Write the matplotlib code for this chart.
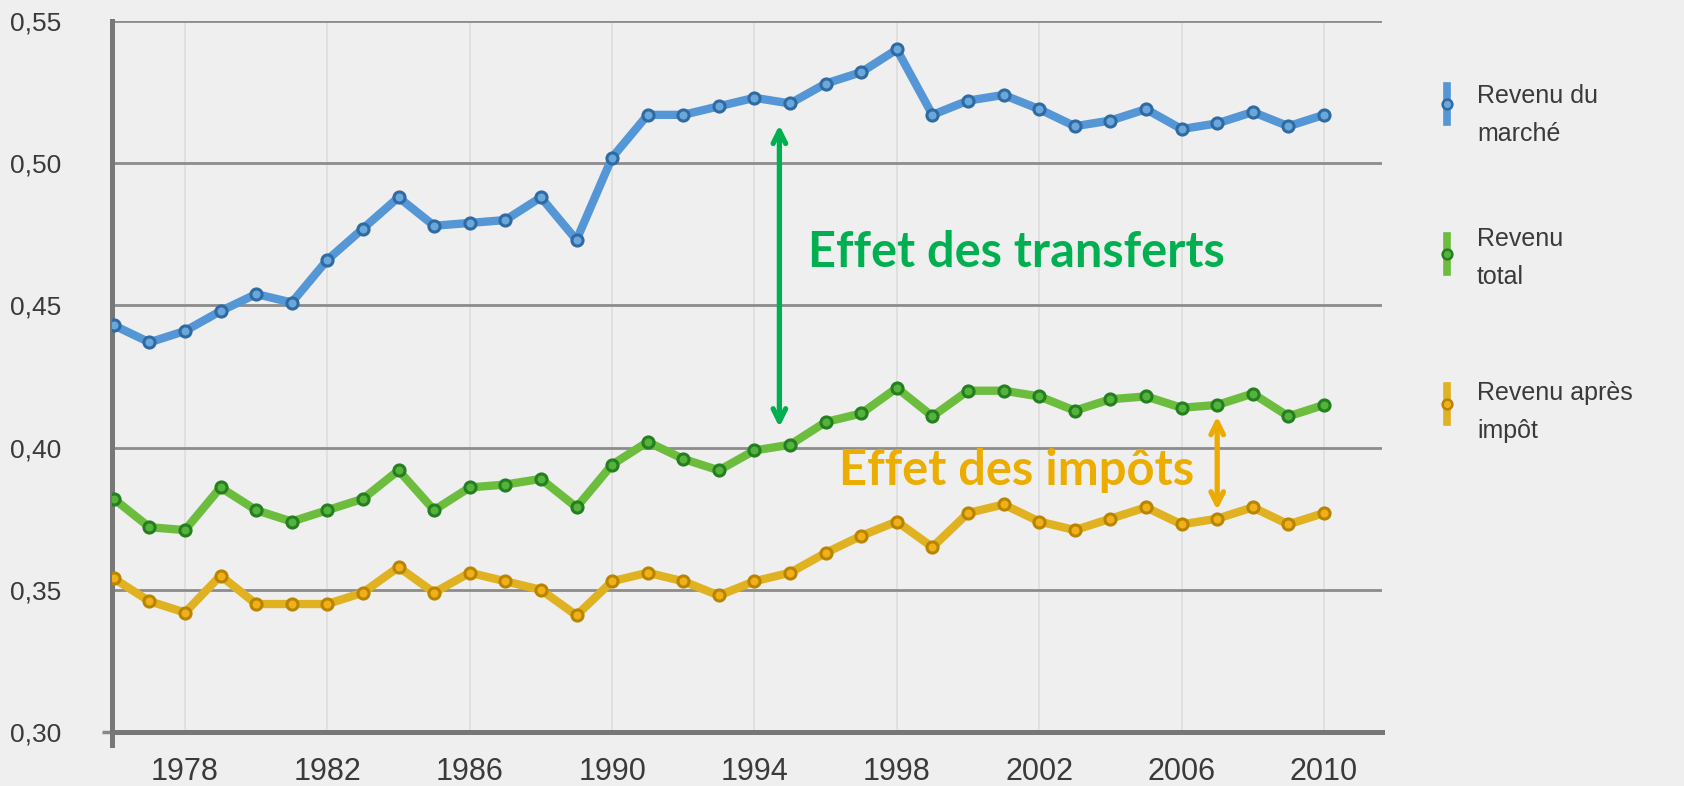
import matplotlib
matplotlib.use("Agg")
import matplotlib.pyplot as plt
from matplotlib.lines import Line2D
import numpy as np

years = list(range(1976, 2011))

revenu_marche = [0.443, 0.437, 0.441, 0.448, 0.454, 0.451, 0.466, 0.477, 0.488, 0.478,
                 0.479, 0.480, 0.488, 0.473, 0.502, 0.517, 0.517, 0.520, 0.523, 0.521,
                 0.528, 0.532, 0.540, 0.517, 0.522, 0.524, 0.519, 0.513, 0.515, 0.519,
                 0.512, 0.514, 0.518, 0.513, 0.517]
revenu_total = [0.382, 0.372, 0.371, 0.386, 0.378, 0.374, 0.378, 0.382, 0.392, 0.378,
                0.386, 0.387, 0.389, 0.379, 0.394, 0.402, 0.396, 0.392, 0.399, 0.401,
                0.409, 0.412, 0.421, 0.411, 0.420, 0.420, 0.418, 0.413, 0.417, 0.418,
                0.414, 0.415, 0.419, 0.411, 0.415]
revenu_apres_impot = [0.354, 0.346, 0.342, 0.355, 0.345, 0.345, 0.345, 0.349, 0.358, 0.349,
                      0.356, 0.353, 0.350, 0.341, 0.353, 0.356, 0.353, 0.348, 0.353, 0.356,
                      0.363, 0.369, 0.374, 0.365, 0.377, 0.380, 0.374, 0.371, 0.375, 0.379,
                      0.373, 0.375, 0.379, 0.373, 0.377]

series_labels = ["Revenu du\nmarché", "Revenu\ntotal", "Revenu après\nimpôt"]
x_ticks = [1978, 1982, 1986, 1990, 1994, 1998, 2002, 2006, 2010]
y_ticks = [0.30, 0.35, 0.40, 0.45, 0.50, 0.55]
y_tick_labels = ["0,30", "0,35", "0,40", "0,45", "0,50", "0,55"]

transfer_arrow = (1994.7, 0.5134, 0.4072)
tax_arrow = (2007.0, 0.411, 0.378)

BG = "#efefef"
styles = [
    dict(color="#5596d6", mfc="#6aa8dc", mec="#2f6aa3"),
    dict(color="#6cbd3e", mfc="#55b23a", mec="#237f1f"),
    dict(color="#e0b222", mfc="#f0b01a", mec="#b98500"),
]

plt.rcParams['font.family'] = ['Liberation Sans', 'DejaVu Sans']

fig = plt.figure(figsize=(16.84, 7.86), dpi=100, facecolor=BG)
ax = fig.add_axes([112/1684, 54/786, (1382-112)/1684, (732-21)/786])
ax.set_facecolor(BG)

ax.set_xlim(1975.95, 2011.63)
ax.set_ylim(0.30, 0.55)

# grid
for xt in x_ticks:
    ax.axvline(xt, color="#dddddd", lw=1.2, zorder=0)
for yt in y_ticks[1:]:
    ax.axhline(yt, color="#8c8c8c", lw=2.0, zorder=1)

for data, st in zip([revenu_marche, revenu_total, revenu_apres_impot], styles):
    ax.plot(years, data, color=st["color"], lw=6, marker="o", ms=8,
            mfc=st["mfc"], mec=st["mec"], mew=2.2, zorder=3, solid_joinstyle="round")

for side in ["top", "right"]:
    ax.spines[side].set_visible(False)
ax.spines["left"].set_color("#777777")
ax.spines["left"].set_linewidth(3.6)
ax.spines["left"].set_bounds(0.2955, 0.55)
ax.spines["bottom"].set_color("#777777")
ax.spines["bottom"].set_linewidth(3.6)

ax.set_xticks(x_ticks)
ax.set_xticklabels([str(x) for x in x_ticks])
ax.set_yticks(y_ticks)
ax.set_yticklabels(y_tick_labels)
ax.yaxis.remove_overlapping_locs = False
ax.set_yticks([0.30], minor=True)
ax.tick_params(axis="y", which="minor", length=7, width=2.5, color="#888888")
ax.tick_params(axis="both", which="major", length=0, labelcolor="#3a3a3a")
ax.tick_params(axis="x", which="major", labelsize=22, pad=18)
ax.tick_params(axis="y", which="major", labelsize=19, pad=36.5)

# arrows
ax.annotate("", xy=(transfer_arrow[0], transfer_arrow[1]), xytext=(transfer_arrow[0], transfer_arrow[2]),
            arrowprops=dict(arrowstyle="<->,head_length=0.9,head_width=0.45", color="#00b050", lw=3.8,
                            shrinkA=0, shrinkB=0), zorder=5)
ax.annotate("", xy=(tax_arrow[0], tax_arrow[1]), xytext=(tax_arrow[0], tax_arrow[2]),
            arrowprops=dict(arrowstyle="<->,head_length=0.9,head_width=0.45", color="#ebab00", lw=3.8,
                            shrinkA=0, shrinkB=0), zorder=5)

t1 = ax.text(1995.5, 0.4686, "Effet des transferts", color="#00b050", fontsize=30,
             fontweight="bold", family=["Lato", "DejaVu Sans"], ha="left", va="center", zorder=6)
t2 = ax.text(1996.37, 0.3921, "Effet des impôts", color="#ebae00", fontsize=30,
             fontweight="bold", family=["Lato", "DejaVu Sans"], ha="left", va="center", zorder=6)

# scale annotation texts to target widths
fig.canvas.draw()
r = fig.canvas.get_renderer()
for t, target in [(t1, 416), (t2, 355)]:
    w = t.get_window_extent(r).width
    t.set_fontsize(t.get_fontsize() * target / w)

# legend
leg_y = [104, 254, 404]
leg_text_y = [115, 258, 412]
for st, ly, ty, lab in zip(styles, leg_y, leg_text_y, series_labels):
    yf = 1 - ly / 786
    fig.add_artist(Line2D([1447/1684, 1447/1684], [yf - 18/786, yf + 18/786],
                          transform=fig.transFigure, color=st["color"], lw=5.5))
    fig.add_artist(Line2D([1447/1684], [yf], transform=fig.transFigure, marker="o", ms=7,
                          mfc=st["mfc"], mec=st["mec"], mew=1.8, lw=0))
    fig.text(1477/1684, 1 - ty/786, lab, fontsize=18, color="#3a3a3a", ha="left", va="center",
             linespacing=1.75)

fig.savefig("out.png", dpi=100, facecolor=BG)
